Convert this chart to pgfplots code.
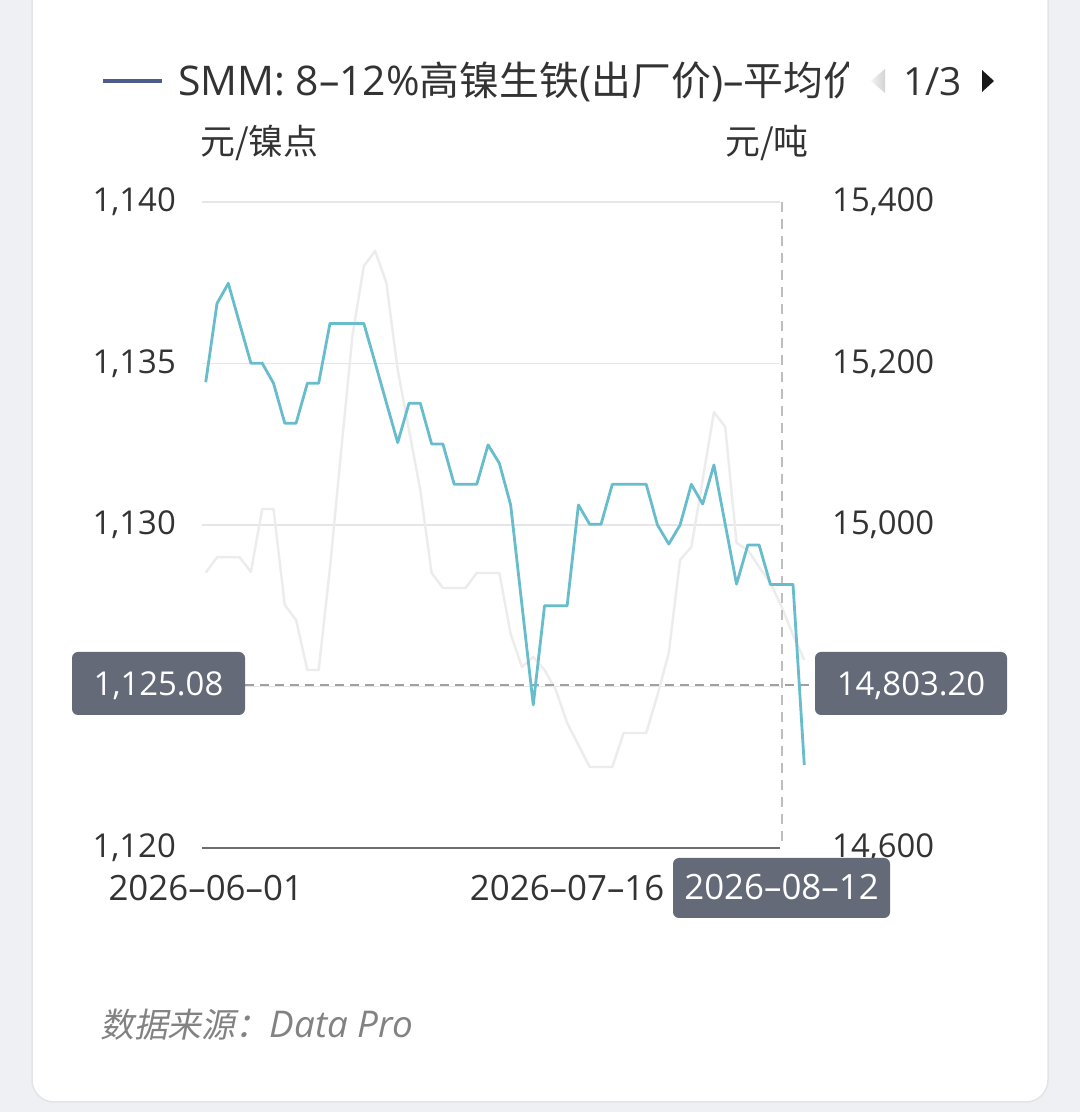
\documentclass[border=0pt]{standalone}
\usepackage{fontspec}
\usepackage{pgfplots}
\usepackage{pgfplotstable}
\pgfplotsset{compat=1.18}
\setmainfont{Open Sans}
\newfontfamily\cjk{Noto Sans CJK SC}
\newfontfamily\cjkit[FakeSlant=0.2]{Noto Sans CJK SC}
\definecolor{teal1}{RGB}{104,189,204}
\definecolor{ghost}{RGB}{236,236,236}
\definecolor{gridc}{RGB}{230,230,232}
\definecolor{axisc}{RGB}{110,110,112}
\definecolor{tipc}{RGB}{100,106,120}
\definecolor{txt}{RGB}{51,51,51}
\definecolor{legc}{RGB}{78,92,140}
\definecolor{bgc}{RGB}{238,240,243}
\definecolor{cardb}{RGB}{226,228,232}
\definecolor{foot}{RGB}{130,130,130}
\definecolor{dashc}{RGB}{160,160,160}
\definecolor{vdashc}{RGB}{190,190,190}

% 8-12% high-nickel pig iron (left axis, yuan / nickel point)
\pgfplotstableread{
i v
0 1134.42
1 1136.86
2 1137.48
3 1136.24
4 1135.01
5 1135.01
6 1134.39
7 1133.15
8 1133.15
9 1134.39
10 1134.39
11 1136.24
12 1136.24
13 1136.24
14 1136.24
15 1135.02
16 1133.78
17 1132.55
18 1133.77
19 1133.77
20 1132.51
21 1132.51
22 1131.26
23 1131.26
24 1131.26
25 1132.48
26 1131.91
27 1130.62
28 1127.52
29 1124.43
30 1127.50
31 1127.50
32 1127.50
33 1130.62
34 1130.02
35 1130.02
36 1131.26
37 1131.26
38 1131.26
39 1131.26
40 1130.00
41 1129.41
42 1130.00
43 1131.26
44 1130.65
45 1131.86
46 1130.02
47 1128.17
48 1129.38
49 1129.38
50 1128.16
51 1128.16
52 1128.16
53 1122.57
}\tealdata

% faded series (right axis, yuan / ton)
\pgfplotstableread{
i v
0 14940.9
1 14960.0
2 14960.0
3 14960.0
4 14942.0
5 15019.8
6 15019.8
7 14900.9
8 14882.4
9 14820.4
10 14820.4
11 14946.7
12 15092.9
13 15235.3
14 15320.7
15 15339.3
16 15299.7
17 15191.9
18 15117.6
19 15043.3
20 14940.6
21 14922.0
22 14922.0
23 14922.0
24 14940.6
25 14940.6
26 14940.6
27 14865.0
28 14824.1
29 14836.5
30 14820.4
31 14795.7
32 14754.8
33 14727.6
34 14700.3
35 14700.3
36 14700.3
37 14742.4
38 14742.4
39 14742.4
40 14789.5
41 14841.5
42 14956.7
43 14972.8
44 15055.7
45 15139.9
46 15121.4
47 14977.7
48 14969.0
49 14948.0
50 14928.2
51 14898.5
52 14863.8
53 14832.8
}\ghostdata

\begin{document}
\begin{tikzpicture}[x=1bp,y=1bp]
\useasboundingbox (0,0) rectangle (1080,1112);
\clip (0,0) rectangle (1080,1112);
\fill[bgc] (0,0) rectangle (1080,1112);
\fill[white, draw=cardb, line width=1.5bp, rounded corners=22bp] (32,10) rectangle (1048,1160);

% right axis with grid and faded series
\begin{axis}[
  at={(202bp,264bp)}, anchor=south west, scale only axis,
  width=578bp, height=646bp,
  xmin=-0.33, xmax=50.85, ymin=14600, ymax=15400,
  axis x line=none, axis y line*=right,
  y axis line style={draw=none},
  ytick={14600,14800,15000,15200,15400},
  yticklabels={{14,600},{},{15,000},{15,200},{15,400}},
  scaled y ticks=false,
  major tick length=0pt,
  ymajorgrids, grid style={gridc, line width=1.6bp},
  yticklabel style={font=\fontsize{33}{33}\selectfont, text=txt, anchor=west, inner sep=0pt, xshift=52bp},
  clip=false,
]
\addplot[ghost, line width=2.4bp, line join=round] table[x=i, y=v] {\ghostdata};
\end{axis}

% crosshair
\draw[dashc, line width=2.4bp, dash pattern=on 9bp off 6bp] (245,427) -- (815,427);
\draw[vdashc, line width=2bp, dash pattern=on 10bp off 7bp] (781.5,910) -- (781.5,264);

% left axis with main series
\begin{axis}[
  at={(202bp,264bp)}, anchor=south west, scale only axis,
  width=578bp, height=646bp,
  xmin=-0.33, xmax=50.85, ymin=1120, ymax=1140,
  axis x line*=bottom, axis y line*=left,
  y axis line style={draw=none},
  x axis line style={axisc, line width=2.4bp, -},
  ytick={1120,1125,1130,1135,1140},
  yticklabels={{1,120},{},{1,130},{1,135},{1,140}},
  scaled y ticks=false,
  xtick={0,32}, xticklabels={2026–06–01,2026–07–16},
  major tick length=0pt,
  yticklabel style={font=\fontsize{33}{33}\selectfont, text=txt, anchor=east, inner sep=0pt, xshift=-26bp},
  xticklabel style={font=\fontsize{35}{35}\selectfont, text=txt, anchor=north, inner sep=0pt, yshift=-27bp},
  clip=false,
]
\addplot[teal1, line width=2.8bp, line join=round] table[x=i, y=v] {\tealdata};
\end{axis}

% tooltips
\fill[tipc, rounded corners=6bp] (72,397) rectangle (245,460);
\node[text=white, font=\fontsize{33}{33}\selectfont, anchor=base] at (158.5,416) {1,125.08};
\fill[tipc, rounded corners=6bp] (815,397) rectangle (1007,460);
\node[text=white, font=\fontsize{33}{33}\selectfont, anchor=base] at (911,416) {14,803.20};
\fill[tipc, rounded corners=6bp] (673,194) rectangle (890,254);
\node[text=white, font=\fontsize{35}{35}\selectfont, anchor=base] at (781.5,212) {2026–08–12};

% legend
\draw[legc, line width=4bp] (103,1031) -- (162,1031);
\begin{scope}
\clip (170,990) rectangle (848,1080);
\node[anchor=base west, inner sep=0pt, text=txt] at (178,1016) {\fontsize{41}{41}\selectfont SMM: 8–12\%{\cjk\fontsize{40}{40}\selectfont 高镍生铁}({\cjk\fontsize{40}{40}\selectfont 出厂价})–{\cjk\fontsize{40}{40}\selectfont 平均价}};
\end{scope}
\shade[left color=gray!10, right color=gray!35] (885,1043) -- (871,1031) -- (885,1019) -- cycle;
\node[anchor=base west, inner sep=0pt, text=txt] at (903,1016) {\fontsize{39}{39}\selectfont 1/3};
\fill[black!90] (982,1042) -- (994,1031) -- (982,1020) -- cycle;

% units
\node[anchor=base west, inner sep=0pt, text=txt] at (200,957) {\cjk\fontsize{35}{35}\selectfont 元/镍点};
\node[anchor=base west, inner sep=0pt, text=txt] at (725,957) {\cjk\fontsize{35}{35}\selectfont 元/吨};

% footer
\node[anchor=base west, inner sep=0pt, text=foot] at (100,74) {{\cjkit\fontsize{34}{34}\selectfont 数据来源：}{\itshape\fontsize{37}{37}\selectfont Data Pro}};
\end{tikzpicture}
\end{document}
